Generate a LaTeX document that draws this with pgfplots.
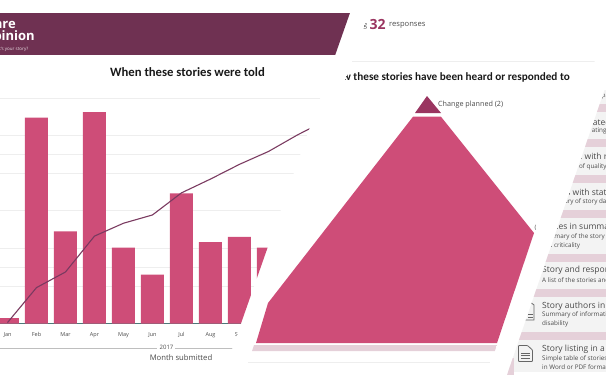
\documentclass[border=0pt]{standalone}
\usepackage{fontspec}
\setmainfont{Open Sans}
\newfontfamily\headfont{Carlito}
\usepackage{pgfplots}
\pgfplotsset{compat=1.18}
\usepackage{pgfplotstable}

\definecolor{banner}{HTML}{6F3152}
\definecolor{rosebar}{HTML}{CE4D78}
\definecolor{plum}{HTML}{9A3560}
\definecolor{trendline}{HTML}{7A3A60}
\definecolor{band}{HTML}{E5D0D9}
\definecolor{card}{HTML}{F3F3F3}
\definecolor{gridgrey}{HTML}{EEEEEE}
\definecolor{inkgrey}{HTML}{4A4A4A}

\tikzset{cardhead/.style={anchor=west,inner sep=0pt,text=inkgrey,font=\fontsize{8.5}{9}\selectfont},
         cardtext/.style={anchor=west,inner sep=0pt,text=inkgrey,font=\fontsize{6.3}{7}\selectfont}}

% Stories told per month in 2017, with the running total
\pgfplotstableread{
idx count total
0   1     1
1   38    39
2   17    56
3   39    95
4   14    109
5   9     118
6   24    142
7   15    157
8   16    173
9   14    187
10  18    205
11  16    221
}\storiestable

% Every axis covers the whole page; this one is measured from the top left corner
\pgfplotsset{
  full page/.style={
    at={(0,0)}, anchor=south west, scale only axis,
    width=606pt, height=375pt, clip=false},
  page axis/.style={full page,
    xmin=0, xmax=606, ymin=0, ymax=375, y dir=reverse, hide axis}}

\begin{document}
\begin{tikzpicture}[x=1pt,y=1pt]
\useasboundingbox (0,0) rectangle (606,375);

% Left panel: banner and monthly chart
\begin{scope}
\clip (354.5,375) -- (222.9,0) -- (0,0) -- (0,375) -- cycle;

\begin{axis}[page axis]
  \addplot[fill=banner,draw=none] coordinates {(0,13) (352,13) (352,55) (0,55)} -- cycle;
  \addplot[gridgrey,line width=0.9pt] coordinates {(0,98) (330,98)};
  \addplot[gridgrey,line width=0.9pt] coordinates {(0,135) (330,135)};
  \addplot[gridgrey,line width=0.9pt] coordinates {(0,154) (330,154)};
  \addplot[gridgrey,line width=0.9pt] coordinates {(0,173) (330,173)};
  \addplot[gridgrey,line width=0.9pt] coordinates {(0,210) (330,210)};
  \addplot[gridgrey,line width=0.9pt] coordinates {(0,248) (330,248)};
  \addplot[gridgrey,line width=0.9pt] coordinates {(0,267) (330,267)};
  \addplot[gridgrey,line width=0.9pt] coordinates {(0,286) (330,286)};
  \addplot[gridgrey!80!black,line width=0.7pt] coordinates {(0,348) (157,348)};
  \addplot[gridgrey!80!black,line width=0.7pt] coordinates {(175,348) (240,348)};
  \node[anchor=east,inner sep=0pt,text=white,font=\fontsize{13}{12}\selectfont\bfseries] at (16,24) {Care};
  \node[anchor=east,inner sep=0pt,text=white,font=\fontsize{13}{12}\selectfont\bfseries] at (35,37) {Opinion};
  \node[anchor=east,inner sep=0pt,text=white!85!banner,font=\fontsize{4.5}{5}\selectfont] at (28.5,49) {What's your story?};
  \node[inner sep=0pt,text=black!90,font=\fontsize{12.7}{13}\selectfont\headfont\bfseries] at (187.5,72.5) {When these stories were told};
  \node[inner sep=0pt,text=inkgrey,font=\fontsize{6}{6}\selectfont] at (166.5,347.5) {2017};
  \node[inner sep=0pt,text=inkgrey,font=\fontsize{7.7}{8}\selectfont] at (181,357.5) {Month submitted};
\end{axis}

\begin{axis}[full page,
  xmin=-0.2586, xmax=20.638, ymin=-9.502, ymax=59.69,
  axis x line=middle, axis y line=none,
  axis line style={draw=black!50!teal!70!white,line width=0.9pt,-},
  xtick={0,...,11},
  xticklabels={Jan,Feb,Mar,Apr,May,Jun,Jul,Aug,Sep,Oct,Nov,Dec},
  x tick label style={font=\fontsize{5.5}{6}\selectfont,text=inkgrey,yshift=-1.2pt},
  tick style={draw=none},
  ybar, bar width=23pt]
  \addplot[fill=rosebar,draw=none] table[x=idx,y=count] {\storiestable};
\end{axis}

\begin{axis}[full page,
  xmin=-0.2586, xmax=20.638, ymin=-55.98, ymax=351.63,
  hide axis]
  \addplot[trendline,line width=1.1pt] table[x=idx,y=total] {\storiestable};
\end{axis}
\end{scope}

% Middle panel: how stories were heard or responded to
\begin{scope}
\clip (373,375) -- (241.4,0) -- (486.6,0) -- (616,375) -- cycle;
\begin{axis}[page axis]
  \addplot[gridgrey,line width=0.9pt] coordinates {(352,61) (595,61)};
  \addplot[fill=rosebar,draw=none] coordinates {(413,116.7) (441,116.7) (534,233) (497,343) (256,343) (268,303)} -- cycle;
  \addplot[fill=plum,draw=none] coordinates {(427,96) (441,113) (415,113)} -- cycle;
  \addplot[fill=band,draw=none] coordinates {(254,345) (497,345) (495,351) (252,351)} -- cycle;
  \addplot[gridgrey,line width=0.9pt] coordinates {(248,362) (490,362)};
  \node[anchor=west,text=inkgrey,font=\fontsize{7.2}{7}\selectfont,inner sep=0pt] at (438,104.5) {Change planned (2)};
  \node[anchor=west,text=inkgrey,font=\fontsize{7.6}{7}\selectfont,inner sep=0pt] at (389,25.5) {responses};
  \node[anchor=west,text=plum,font=\fontsize{14}{14}\selectfont\bfseries,inner sep=0pt] at (369.5,24) {32};
  \node[anchor=east,text=inkgrey,font=\fontsize{7}{7}\selectfont,inner sep=0pt] at (367.5,25.5) {using};
  \node[anchor=east,text=black!90,font=\fontsize{11.2}{12}\selectfont\headfont\bfseries,inner sep=0pt] at (570,77) {How these stories have been heard or responded to};
  \node[anchor=west,text=inkgrey,font=\fontsize{6}{6}\selectfont,inner sep=0pt] at (534.5,228) {(};
\end{axis}
\end{scope}

% Right panel: list of available reports
\begin{scope}
\clip (635.3,375) -- (507,0) -- (606,0) -- (606,375) -- cycle;
\begin{axis}[page axis]
  \addplot[fill=card,draw=none] coordinates {(606,90) (606,372) (500,372) (500,90)} -- cycle;
  \addplot[fill=band,draw=none] coordinates {(500,358) (514,358) (514,375) (500,375)} -- cycle;
  \addplot[fill=band,draw=none] coordinates {(500,104) (606,104) (606,112) (500,112)} -- cycle;
  \addplot[fill=band,draw=none] coordinates {(500,139) (606,139) (606,147) (500,147)} -- cycle;
  \addplot[fill=band,draw=none] coordinates {(500,175) (606,175) (606,183) (500,183)} -- cycle;
  \addplot[fill=band,draw=none] coordinates {(500,210) (606,210) (606,218) (500,218)} -- cycle;
  \addplot[fill=band,draw=none] coordinates {(500,254) (606,254) (606,262) (500,262)} -- cycle;
  \addplot[fill=band,draw=none] coordinates {(500,289) (606,289) (606,297) (500,297)} -- cycle;
  \addplot[fill=band,draw=none] coordinates {(500,332) (606,332) (606,340) (500,340)} -- cycle;

  % Document icons
  \draw[black!60,line width=0.8pt,rounded corners=0.8pt]
    (518.5,345.5) -- (527.5,345.5) -- (532.5,350) -- (532.5,361.5) -- (518.5,361.5) -- cycle;
  \draw[black!60,line width=0.6pt] (521,353) -- (530,353) (521,355.5) -- (530,355.5) (521,358) -- (530,358);
  \draw[black!60,line width=0.8pt]
    (524,320) -- (534,320) -- (534,305) -- (530,302) -- (524,302) -- cycle;
  \draw[black!60,line width=0.6pt] (528,314) -- (533,314) (528,317) -- (533,317);

  % Card headings and descriptions
  \node[cardtext] at (601.5,96) {pathways};
  \node[cardhead] at (560,122) {Stories rated};
  \node[cardtext] at (566,131) {Outline ratings};
  \node[cardhead] at (555,157) {Stories with responses};
  \node[cardtext] at (549,167) {Summary of quality};
  \node[cardhead] at (543,192) {Stories with stats};
  \node[cardtext] at (545,202) {Summary of story data};
  \node[cardhead] at (540,227) {Stories in summary};
  \node[cardtext] at (541,237) {Summary of the story};
  \node[cardtext] at (541,245.5) {and criticality};
  \node[cardhead] at (542,270) {Story and responses};
  \node[cardtext] at (542,280) {A list of the stories and};
  \node[cardhead] at (542,306) {Story authors in brief};
  \node[cardtext] at (542,315) {Summary of information on};
  \node[cardtext] at (542,324) {disability};
  \node[cardhead] at (542,349) {Story listing in a table};
  \node[cardtext] at (542,358.5) {Simple table of stories};
  \node[cardtext] at (542,367) {in Word or PDF format};
\end{axis}
\end{scope}
\end{tikzpicture}
\end{document}
